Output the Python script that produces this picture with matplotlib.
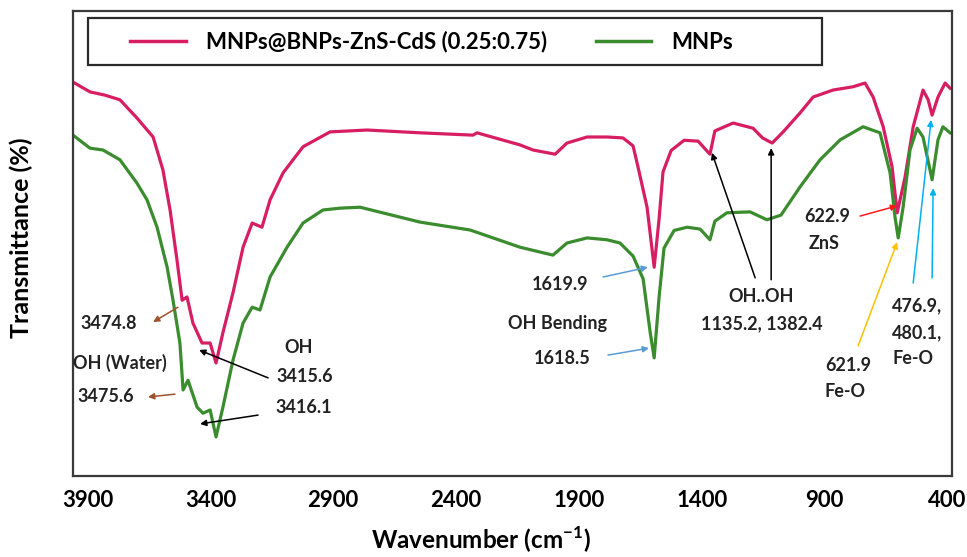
import matplotlib.pyplot as plt
from matplotlib.patches import Rectangle

plt.rcParams['font.family'] = ['Lato', 'DejaVu Sans']
plt.rcParams['mathtext.fontset'] = 'custom'
plt.rcParams['mathtext.rm'] = 'Lato'
plt.rcParams['mathtext.bf'] = 'Lato:bold'

# FTIR spectra (wavenumber in cm-1, transmittance in arbitrary %)
wn_pink = [3959, 3890, 3829, 3768, 3699, 3633, 3593, 3564, 3536, 3515, 3495, 3471, 3434,
           3401, 3377, 3349, 3308, 3267, 3230, 3190, 3157, 3104, 3023, 2913, 2763, 2547,
           2331, 2315, 2140, 2087, 1997, 1949, 1867, 1786, 1721, 1680, 1660, 1623, 1594,
           1574, 1558, 1525, 1472, 1415, 1376, 1367, 1347, 1273, 1192, 1153, 1114, 1069,
           1000, 947, 866, 785, 736, 703, 662, 626, 605, 573, 540, 500, 479, 463, 439,
           410, 390]
t_pink = [84.7, 82.6, 81.9, 80.9, 77.0, 72.9, 65.8, 57.2, 46.5, 37.8, 38.5, 32.9, 28.6,
          28.6, 24.3, 30.8, 39.4, 49.2, 54.4, 53.5, 59.4, 65.2, 70.8, 74.0, 74.4, 73.8,
          73.3, 73.8, 71.2, 70.1, 69.2, 71.6, 72.9, 72.9, 72.7, 71.0, 66.5, 57.8, 44.9,
          55.3, 65.4, 70.0, 72.2, 72.0, 69.7, 69.2, 74.2, 75.9, 74.8, 72.7, 71.6, 74.0,
          78.1, 81.5, 83.0, 83.7, 84.5, 81.5, 75.1, 66.5, 56.6, 64.3, 75.1, 83.0, 80.9,
          77.6, 81.5, 84.5, 83.4]

wn_green = [3959, 3890, 3837, 3768, 3699, 3658, 3617, 3576, 3552, 3524, 3511, 3491, 3454,
            3430, 3401, 3377, 3349, 3308, 3267, 3230, 3198, 3157, 3088, 3023, 2942, 2872,
            2791, 2547, 2343, 2140, 2006, 1949, 1867, 1786, 1733, 1680, 1639, 1610, 1594,
            1574, 1554, 1513, 1460, 1407, 1367, 1347, 1298, 1204, 1135, 1078, 1000, 919,
            837, 744, 675, 634, 614, 601, 581, 553, 524, 500, 463, 439, 419, 390]
t_green = [73.3, 70.5, 70.1, 68.0, 63.0, 59.4, 53.5, 44.9, 37.8, 28.6, 18.5, 20.6, 14.8,
           13.5, 14.2, 8.4, 14.8, 24.9, 32.9, 36.3, 35.7, 42.8, 49.2, 54.4, 57.2, 57.6,
           57.8, 54.6, 52.9, 49.2, 47.5, 50.1, 51.2, 50.8, 50.1, 47.3, 42.4, 30.8, 25.4,
           38.5, 49.0, 52.8, 53.5, 53.1, 50.8, 54.8, 56.6, 56.8, 55.1, 56.1, 62.2, 68.0,
           72.3, 75.1, 73.8, 65.2, 55.7, 51.2, 57.8, 70.1, 74.8, 72.9, 63.7, 72.3, 75.1,
           73.8]

label_pink = 'MNPs@BNPs-ZnS-CdS (0.25:0.75)'
label_green = 'MNPs'
xticks = [3900, 3400, 2900, 2400, 1900, 1400, 900, 400]

pink = '#d81e63'
green = '#3a8c2e'

fig = plt.figure(figsize=(9.67, 5.57), dpi=100)
ax = fig.add_axes([0.0755, 0.1454, 0.909, 0.8349])

ax.plot(wn_pink, t_pink, color=pink, lw=2.3, label=label_pink)
ax.plot(wn_green, t_green, color=green, lw=2.3, label=label_green)

ax.set_xlim(3959, 382)
ax.set_ylim(0, 100)
ax.set_xticks(xticks)
ax.set_xticklabels([str(t) for t in xticks], fontsize=16, fontweight='bold')
ax.set_yticks([])
ax.tick_params(axis='x', length=0, pad=10)
for s in ax.spines.values():
    s.set_color('#3a3a3a')
    s.set_linewidth(1.6)

ax.set_xlabel('Wavenumber (cm$^{\\mathbf{-1}}$)', fontsize=17.5, fontweight='bold')
ax.xaxis.set_label_coords(0.464, -0.105)
ax.set_ylabel('Transmittance (%)', fontsize=18, fontweight='bold')
ax.yaxis.set_label_coords(-0.046, 0.512)

# legend box
ax.add_patch(Rectangle((0.017, 0.884), 0.835, 0.101, transform=ax.transAxes,
                       fill=False, ec='#2a2a2a', lw=1.6, zorder=5))
leg = ax.legend(loc='center left', bbox_to_anchor=(0.065, 0.934), ncol=2,
                frameon=False, borderpad=0, borderaxespad=0, handlelength=2.5,
                handletextpad=0.9, columnspacing=2.2,
                prop={'size': 16, 'weight': 'bold'})
for h in leg.get_lines():
    h.set_linewidth(2.5)

fs = 13
fw = 'bold'
tc = '#222222'


def label(x, y, s, ha='center'):
    ax.text(x, y, s, ha=ha, va='center', fontsize=fs, fontweight=fw, color=tc)


def arrow(x0, y0, x1, y1, c):
    ax.annotate('', xy=(x1, y1), xytext=(x0, y0),
                arrowprops=dict(arrowstyle='-|>', color=c, lw=1.1, mutation_scale=9,
                                shrinkA=0, shrinkB=0))


brown = '#a0522d'
label(3812, 32.9, '3474.8')
arrow(3532, 36.3, 3633, 33.1, brown)
label(3768, 24.3, 'OH (Water)')
label(3825, 17.0, '3475.6')
arrow(3544, 17.6, 3654, 17.0, brown)
label(3039, 27.7, 'OH')
label(3015, 21.3, '3415.6')
arrow(3165, 21.1, 3446, 27.1, 'black')
label(3019, 14.8, '3416.1')
arrow(3206, 13.1, 3442, 11.2, 'black')

sky = '#5b9bd5'
label(1977, 41.1, '1619.9')
arrow(1802, 42.8, 1619, 44.9, sky)
label(1989, 32.9, 'OH Bending')
label(1969, 25.2, '1618.5')
arrow(1782, 26.0, 1615, 27.5, sky)

label(1160, 38.5, 'OH..OH')
label(1155, 32.7, '1135.2, 1382.4')
arrow(1183, 42.6, 1359, 69.5, 'black')
arrow(1118, 42.2, 1118, 70.5, 'black')

label(890, 55.7, '622.9')
arrow(756, 55.9, 605, 58.1, '#ff1a1a')
label(902, 50.1, 'ZnS')
label(899, 23.7, '621.9', ha='left')
label(899, 18.1, 'Fe-O', ha='left')
arrow(764, 28.0, 605, 50.3, '#ffc000')

cyan = '#00b0f0'
label(626, 36.6, '476.9,', ha='left')
label(626, 30.8, '480.1,', ha='left')
label(626, 25.2, 'Fe-O', ha='left')
arrow(540, 41.5, 467, 76.6, cyan)
arrow(463, 42.6, 459, 61.9, cyan)

fig.savefig('out.png', dpi=100)
